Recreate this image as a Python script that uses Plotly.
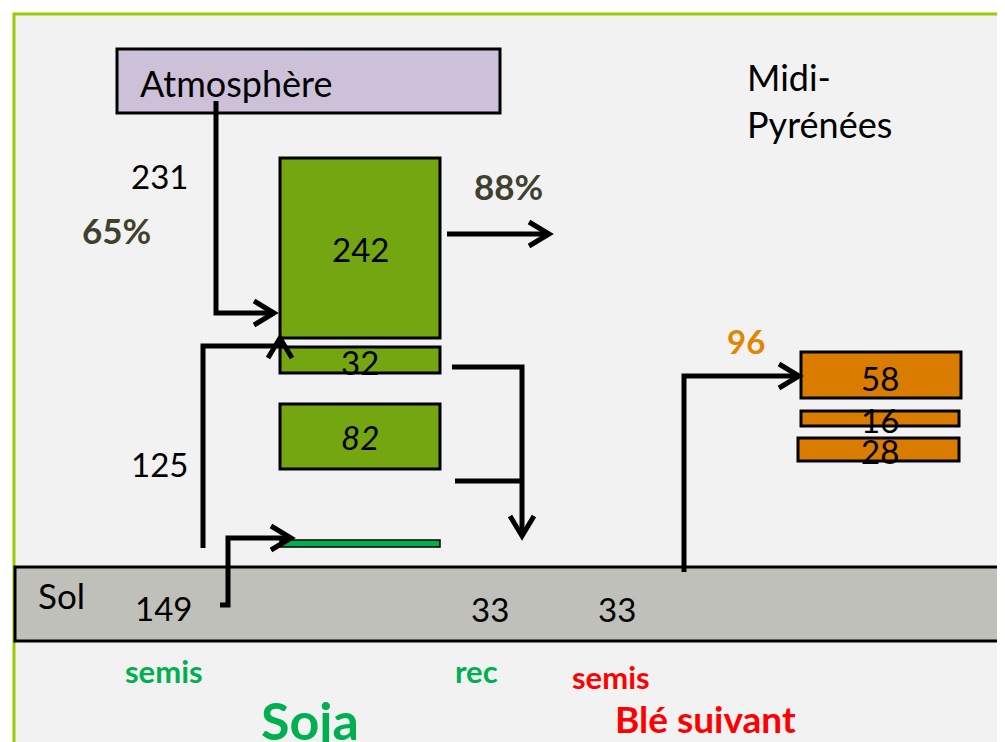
import plotly.graph_objects as go

# --- values (N flows, kg/ha) ---
compartments = ["Atmosphère", "Sol"]
soja_stocks = ["242", "32", "82"]        # plant boxes (soja)
ble_stocks = ["58", "16", "28"]          # plant boxes (blé suivant)
flux_values = ["231", "125", "149", "33", "33"]
flux_ble = "96"
pct_labels = ["65%", "88%"]
stage_labels = ["semis", "rec", "semis"]
crop_labels = ["Soja", "Blé suivant"]
region_label = "Midi-<br>Pyrénées"

# --- layout geometry (pixel space, y downward) ---
soja_boxes = [(280, 158, 440, 338), (280, 347, 440, 373), (280, 404, 440, 469)]
ble_boxes = [(801, 352, 961, 398), (801, 411, 959, 426), (798, 438, 959, 461)]
soja_text_y = [249, 362, 437]
ble_text_y = [378, 420, 451]
flux_pos = [(159, 176), (159, 464), (163, 608), (490, 609), (617, 609)]

GREEN = "#74a612"
ORANGE = "#d97c00"
FONT = "Lato"
OFF = 8  # page body margin
W, H = 1005 - OFF, 742 - OFF

arrows = [
    # polyline points, direction of head
    ([(216, 101), (216, 313), (274, 313)], "right"),
    ([(203, 548), (203, 346), (280, 346), (280, 338)], "up"),
    ([(447, 234), (549, 234)], "right"),
    ([(452, 367), (522, 367), (522, 536)], "down"),
    ([(455, 481), (522, 481)], None),
    ([(220, 605), (228, 605), (228, 538), (291, 538)], "right"),
    ([(684, 572), (684, 376), (799, 376)], "right"),
]


def chevron(tip, direction, ln=20, half=12):
    x, y = tip
    if direction == "right":
        return [(x - ln, y - half), (x, y), (x - ln, y + half)]
    if direction == "down":
        return [(x - half, y - ln), (x, y), (x + half, y - ln)]
    if direction == "up":
        return [(x - half, y + ln), (x, y), (x + half, y + ln)]


fig = go.Figure()
shapes = []

# panel with green frame
shapes.append(dict(type="rect", x0=14, y0=14, x1=1030, y1=770,
                   fillcolor="#f2f2f2", line=dict(color="#99cc00", width=3), layer="below"))
# atmosphere and soil
shapes.append(dict(type="rect", x0=117, y0=49, x1=500, y1=113,
                   fillcolor="#ccc1d9", line=dict(color="black", width=3), layer="below"))
shapes.append(dict(type="rect", x0=15, y0=567, x1=999, y1=641,
                   fillcolor="#bfc0b9", line=dict(color="black", width=3), layer="below"))
for (x0, y0, x1, y1) in soja_boxes:
    shapes.append(dict(type="rect", x0=x0, y0=y0, x1=x1, y1=y1,
                       fillcolor=GREEN, line=dict(color="black", width=3), layer="below"))
for (x0, y0, x1, y1) in ble_boxes:
    shapes.append(dict(type="rect", x0=x0, y0=y0, x1=x1, y1=y1,
                       fillcolor=ORANGE, line=dict(color="black", width=3), layer="below"))
# roots / seed bar
shapes.append(dict(type="rect", x0=280, y0=540, x1=440, y1=547,
                   fillcolor="#00b050", line=dict(color="black", width=1.5), layer="below"))

for pts, head in arrows:
    xs = [p[0] for p in pts]
    ys = [p[1] for p in pts]
    fig.add_trace(go.Scatter(x=xs, y=ys, mode="lines", line=dict(color="black", width=5),
                             hoverinfo="skip", showlegend=False))
    if head:
        ch = chevron(pts[-1], head)
        fig.add_trace(go.Scatter(x=[p[0] for p in ch], y=[p[1] for p in ch], mode="lines",
                                 line=dict(color="black", width=5), hoverinfo="skip", showlegend=False))

ann = []


def txt(x, y, s, size=33, color="black", bold=False, italic=False, xanchor="center"):
    if bold:
        s = "<b>" + s + "</b>"
    if italic:
        s = "<i>" + s + "</i>"
    ann.append(dict(x=x, y=y, text=s, showarrow=False, xanchor=xanchor, yanchor="middle",
                    font=dict(family=FONT, size=size, color=color)))


txt(138, 83, compartments[0], size=36, xanchor="left")
txt(36, 595, compartments[1], size=35, xanchor="left")
for s, y in zip(soja_stocks, soja_text_y):
    txt(360, y, s, italic=(s == "82"))
for s, y in zip(ble_stocks, ble_text_y):
    txt(880, y, s)
for s, (x, y) in zip(flux_values, flux_pos):
    txt(x, y, s)
txt(746, 341, flux_ble, size=33, color="#e08600", bold=True)
txt(116, 230, pct_labels[0], size=35, color="#40402f", bold=True)
txt(508, 186, pct_labels[1], size=35, color="#40402f", bold=True)
ann.append(dict(x=745, y=100, text=region_label, showarrow=False, xanchor="left", yanchor="middle",
                align="left", font=dict(family=FONT, size=36, color="black")))
txt(164, 671, stage_labels[0], size=31, color="#00b050", bold=True)
txt(476, 671, stage_labels[1], size=31, color="#00b050", bold=True)
txt(611, 677, stage_labels[2], size=31, color="#ff0000", bold=True)
txt(310, 720, crop_labels[0], size=52, color="#00b050", bold=True)
txt(705, 718, crop_labels[1], size=37, color="#ff0000", bold=True)

fig.update_layout(
    width=W, height=H,
    margin=dict(l=0, r=0, t=0, b=0),
    paper_bgcolor="white", plot_bgcolor="white",
    shapes=shapes, annotations=ann,
    xaxis=dict(range=[OFF, OFF + W], visible=False, fixedrange=True),
    yaxis=dict(range=[OFF + H, OFF], visible=False, fixedrange=True),
)
fig.write_html("out.html")
